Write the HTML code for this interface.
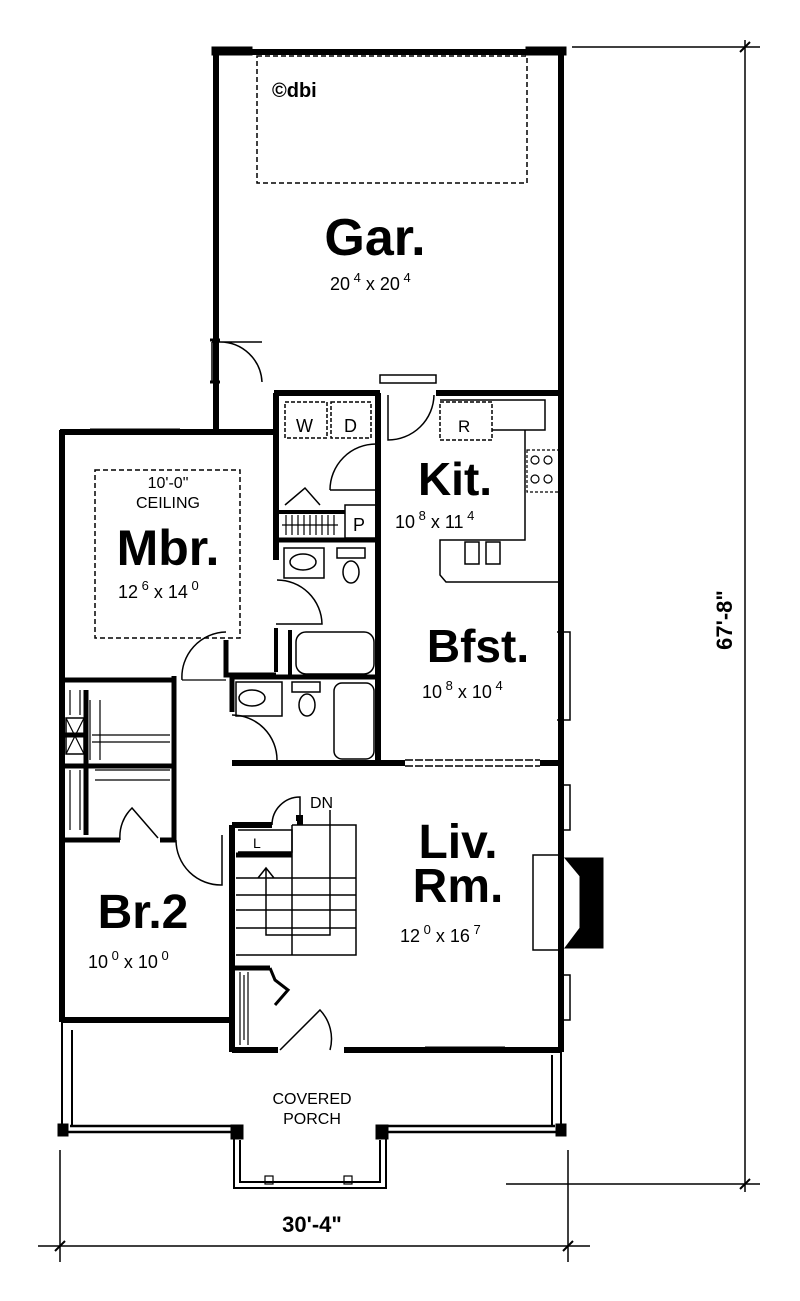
<!DOCTYPE html>
<html><head><style>
html,body{margin:0;padding:0;background:#fff}
svg{display:block}
text{font-family:"Liberation Sans",Arial,sans-serif;fill:#000}
.b{font-weight:bold}
</style></head><body>
<svg width="800" height="1301" viewBox="0 0 800 1301" xmlns="http://www.w3.org/2000/svg">
<g fill="none" stroke="#000">
<!-- Garage -->
<path d="M216 50 V430 M213 52 H566 M561 50 V1052" stroke-width="6"/>
<rect x="212" y="47" width="40" height="8" fill="#000"/>
<rect x="526" y="47" width="40" height="8" fill="#000"/>
<rect x="257" y="56" width="270" height="127" stroke-width="1.5" stroke-dasharray="5,3"/>
<!-- garage side door -->
<path d="M210 340 H220 M210 382 H220" stroke-width="3"/>
<path d="M212 342 H262 M212 342 V382 M262 382 A42 42 0 0 0 220 342" stroke-width="1.5"/>
<!-- garage bottom wall -->
<path d="M274 393 H380 M436 393 H561" stroke-width="6"/>
<rect x="380" y="375" width="56" height="8" stroke-width="1.5"/>
<path d="M388 395 V440 A46 46 0 0 0 434 395" stroke-width="1.5"/>
<!-- Mbr / left -->
<path d="M60 432 H275 M62 430 V1022 M276 393 V560" stroke-width="6"/>
<path d="M90 430 H180" stroke-width="3" stroke="#000"/>
<rect x="95" y="470" width="145" height="168" stroke-width="1.5" stroke-dasharray="5,3"/>
<!-- laundry -->
<path d="M378 393 V765" stroke-width="6"/>
<rect x="285" y="402" width="42" height="36" stroke-width="1.5" stroke-dasharray="4,2"/>
<rect x="331" y="402" width="40" height="36" stroke-width="1.5" stroke-dasharray="4,2"/>
<path d="M330 490 H378 M330 490 A46 46 0 0 1 376 444" stroke-width="1.5"/>
<path d="M277 512 H345" stroke-width="4"/>
<path d="M286 515 V535 M292 515 V535 M298 515 V535 M304 515 V535 M310 515 V535 M316 515 V535 M322 515 V535 M328 515 V535 M334 515 V535 M282 525 H338" stroke-width="1.2"/>
<path d="M285 505 L305 488 L320 505" stroke-width="1.5"/>
<rect x="345" y="505" width="32" height="33" stroke-width="1.5"/>
<path d="M277 540 H378" stroke-width="5"/>
<!-- bath 1 -->
<rect x="284" y="548" width="40" height="30" stroke-width="1.5"/>
<ellipse cx="303" cy="562" rx="13" ry="8" stroke-width="1.5"/>
<rect x="337" y="548" width="28" height="10" stroke-width="1.5"/>
<ellipse cx="351" cy="572" rx="8" ry="11" stroke-width="1.5"/>
<path d="M277 580 A45 45 0 0 1 322 624 H276" stroke-width="1.5"/>
<path d="M276 628 V672 M290 630 V675" stroke-width="4"/>
<rect x="296" y="632" width="78" height="42" rx="10" stroke-width="1.5"/>
<!-- mbr door to hall -->
<path d="M226 640 V675 H276" stroke-width="5"/>
<path d="M182 680 A45 45 0 0 1 226 632" stroke-width="1.5"/>
<path d="M182 680 H226" stroke-width="1.2"/>
<!-- bath 2 -->
<path d="M230 677 H378" stroke-width="5"/>
<path d="M232 677 V712" stroke-width="5"/>
<rect x="236" y="682" width="46" height="34" stroke-width="1.5"/>
<ellipse cx="252" cy="698" rx="13" ry="8" stroke-width="1.5"/>
<rect x="292" y="682" width="28" height="10" stroke-width="1.5"/>
<ellipse cx="307" cy="705" rx="8" ry="11" stroke-width="1.5"/>
<rect x="334" y="683" width="40" height="76" rx="8" stroke-width="1.5"/>
<path d="M232 715 A45 45 0 0 1 277 760" stroke-width="1.5"/>
<path d="M232 763 H405 M540 763 H561" stroke-width="6"/>
<path d="M405 760 H540 M405 766 H540" stroke-width="1.5" stroke-dasharray="8,2"/>
<!-- kitchen -->
<rect x="440" y="402" width="52" height="38" stroke-width="1.5" stroke-dasharray="4,2"/>
<path d="M440 400 H545 V430 H525 V540 H440 V575 L446 582 H560 M492 430 H525" stroke-width="1.5"/>
<rect x="465" y="542" width="14" height="22" stroke-width="1.5"/>
<rect x="486" y="542" width="14" height="22" stroke-width="1.5"/>
<rect x="527" y="450" width="32" height="42" stroke-width="1.2" stroke-dasharray="3,2"/>
<circle cx="535" cy="460" r="4" stroke-width="1.2"/><circle cx="548" cy="460" r="4" stroke-width="1.2"/>
<circle cx="535" cy="479" r="4" stroke-width="1.2"/><circle cx="548" cy="479" r="4" stroke-width="1.2"/>
<path d="M557 632 H570 V720 H557" stroke-width="1.5"/>
<!-- Closets left -->
<path d="M62 680 H176 M174 676 V840 M86 690 V835 M62 735 H86 M62 766 H176" stroke-width="5"/>
<rect x="66" y="718" width="18" height="36" stroke-width="1.5"/>
<path d="M66 718 L84 754 M84 718 L66 754" stroke-width="1.2"/>
<path d="M92 735 H170 M92 742 H170 M70 690 V715 M80 690 V715 M90 700 V760 M100 700 V760" stroke-width="1.2"/>
<path d="M95 770 H170 M95 780 H170 M70 770 V830 M80 770 V830" stroke-width="1.2"/>
<path d="M60 840 H120 M160 840 H176" stroke-width="5"/>
<path d="M120 840 A40 40 0 0 1 132 808 L158 838" stroke-width="1.5"/>
<path d="M176 840 A45 45 0 0 0 222 885 V835" stroke-width="1.5"/>
<!-- stairs -->
<path d="M232 825 V1052 M232 825 H272 M296 818 H300 V825 M232 1050 H278 M344 1050 H561" stroke-width="6"/>
<path d="M272 825 A28 28 0 0 1 300 797 V825" stroke-width="1.5"/>
<path d="M238 830 H292 V852 H238" stroke-width="1.5"/>
<path d="M236 855 H292" stroke-width="5"/>
<path d="M292 825 H356 V955 H236 M236 878 H356 M236 895 H356 M236 910 H356 M236 928 H356 M292 825 V955 M266 868 V935 H330 V810 M258 878 L266 868 L274 878" stroke-width="1.5"/>
<path d="M232 968 H270" stroke-width="5"/>
<path d="M240 972 V1045 M248 972 V1045 M244 975 V1040" stroke-width="1.2"/>
<path d="M270 968 L275 980 L288 990 L275 1005" stroke-width="3"/>
<path d="M280 1050 L320 1010 A42 42 0 0 1 330 1050" stroke-width="1.5"/>
<!-- Br2 -->
<path d="M62 1020 H232" stroke-width="6"/>
<path d="M96 1020 H190" stroke-width="3"/>
<!-- fireplace -->
<rect x="533" y="855" width="28" height="95" stroke-width="1.5"/>
<path d="M565 858 H603 V948 H565 L580 928 V876 Z" fill="#000" stroke-width="1"/>
<path d="M560 785 H570 V830 H560 M560 975 H570 V1020 H560" stroke-width="1.5"/>
<path d="M425 1048 H505" stroke-width="3"/>
<!-- porch -->
<path d="M62 1020 V1130 M72 1030 V1125 M561 1050 V1130 M552 1055 V1125" stroke-width="2"/>
<path d="M62 1132 H235 M384 1132 H565 M70 1126 H232 M388 1126 H555" stroke-width="2.5"/>
<rect x="58" y="1124" width="10" height="12" fill="#000"/>
<rect x="556" y="1124" width="10" height="12" fill="#000"/>
<rect x="231" y="1125" width="12" height="14" fill="#000"/>
<rect x="376" y="1125" width="12" height="14" fill="#000"/>
<path d="M234 1135 V1188 H386 V1135 M240 1140 V1182 H380 V1140" stroke-width="2"/>
<rect x="265" y="1176" width="8" height="8" stroke-width="1.2"/>
<rect x="344" y="1176" width="8" height="8" stroke-width="1.2"/>
<!-- dimension lines -->
<path d="M572 47 H760 M506 1184 H760 M745 40 V1192" stroke-width="1.5"/>
<path d="M740 52 L750 42 M740 1189 L750 1179" stroke-width="2"/>
<path d="M60 1150 V1262 M568 1150 V1262 M38 1246 H590" stroke-width="1.5"/>
<path d="M55 1251 L65 1241 M563 1251 L573 1241" stroke-width="2"/>
</g>
<text x="272" y="97" font-size="20" class="b">©dbi</text>
<text x="375" y="255" font-size="52" class="b" text-anchor="middle">Gar.</text>
<text x="330" y="290" font-size="18">20<tspan dy="-8" font-size="13"> 4</tspan><tspan dy="8"> x 20</tspan><tspan dy="-8" font-size="13"> 4</tspan></text>
<text x="168" y="488" font-size="16" text-anchor="middle">10'-0"</text>
<text x="168" y="508" font-size="16" text-anchor="middle">CEILING</text>
<text x="168" y="565" font-size="50" class="b" text-anchor="middle">Mbr.</text>
<text x="118" y="598" font-size="18">12<tspan dy="-8" font-size="13"> 6</tspan><tspan dy="8"> x 14</tspan><tspan dy="-8" font-size="13"> 0</tspan></text>
<text x="296" y="432" font-size="18">W</text>
<text x="344" y="432" font-size="18">D</text>
<text x="458" y="432" font-size="17">R</text>
<text x="353" y="531" font-size="18">P</text>
<text x="455" y="495" font-size="46" class="b" text-anchor="middle">Kit.</text>
<text x="395" y="528" font-size="18">10<tspan dy="-8" font-size="13"> 8</tspan><tspan dy="8"> x 11</tspan><tspan dy="-8" font-size="13"> 4</tspan></text>
<text x="478" y="662" font-size="46" class="b" text-anchor="middle">Bfst.</text>
<text x="422" y="698" font-size="18">10<tspan dy="-8" font-size="13"> 8</tspan><tspan dy="8"> x 10</tspan><tspan dy="-8" font-size="13"> 4</tspan></text>
<text x="310" y="808" font-size="16">DN</text>
<text x="253" y="848" font-size="14">L</text>
<text x="458" y="858" font-size="48" class="b" text-anchor="middle">Liv.</text>
<text x="458" y="902" font-size="48" class="b" text-anchor="middle">Rm.</text>
<text x="400" y="942" font-size="18">12<tspan dy="-8" font-size="13"> 0</tspan><tspan dy="8"> x 16</tspan><tspan dy="-8" font-size="13"> 7</tspan></text>
<text x="143" y="928" font-size="48" class="b" text-anchor="middle">Br.2</text>
<text x="88" y="968" font-size="18">10<tspan dy="-8" font-size="13"> 0</tspan><tspan dy="8"> x 10</tspan><tspan dy="-8" font-size="13"> 0</tspan></text>
<text x="312" y="1104" font-size="16" text-anchor="middle">COVERED</text>
<text x="312" y="1124" font-size="16" text-anchor="middle">PORCH</text>
<text x="312" y="1232" font-size="22" class="b" text-anchor="middle">30'-4"</text>
<text transform="translate(732 620) rotate(-90)" font-size="22" class="b" text-anchor="middle">67'-8"</text>
</svg>
</body></html>
